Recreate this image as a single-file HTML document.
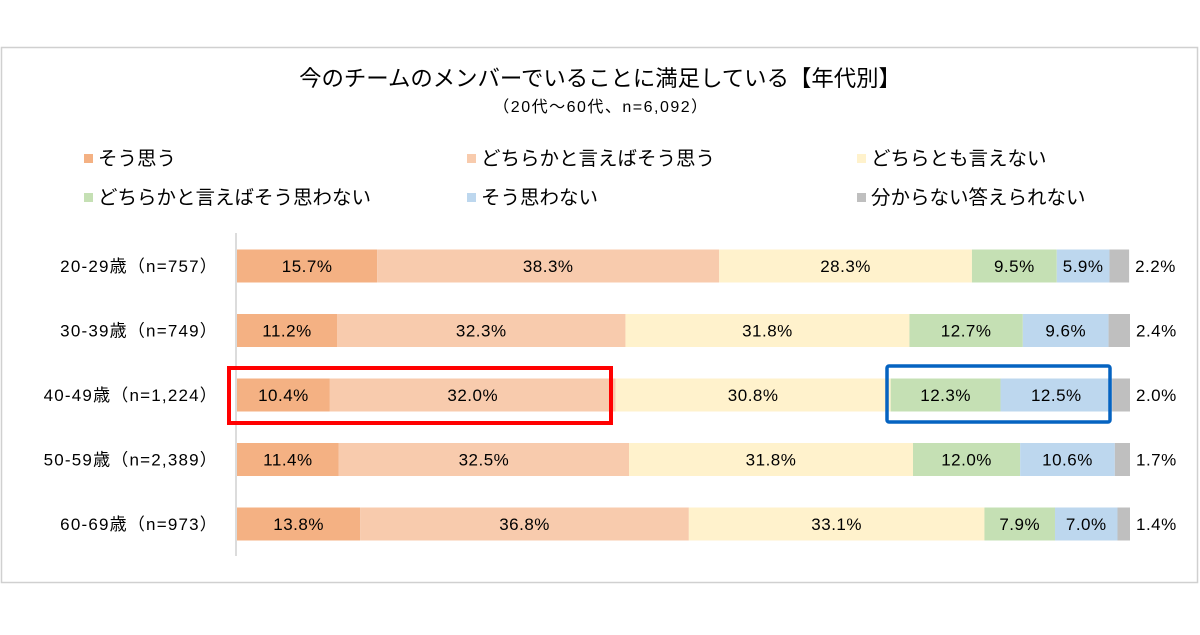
<!DOCTYPE html>
<html><head><meta charset="utf-8"><style>
body{margin:0;width:1200px;height:630px;background:#fff;overflow:hidden;font-family:"Liberation Sans","Noto Sans CJK JP",sans-serif;}
</style></head><body>
<svg width="1200" height="630" id="chart" font-family="Liberation Sans, Noto Sans CJK JP, sans-serif">
<rect x="1.5" y="47.5" width="1196" height="535" fill="#fff" stroke="#d0d0d0" stroke-width="1.5"/>
<text x="600" y="86" text-anchor="middle" font-size="22.4" fill="#000">今のチームのメンバーでいることに満足している【年代別】</text>
<text x="601" y="112" text-anchor="middle" font-size="16" letter-spacing="1.5" fill="#000">（20代～60代、n=6,092）</text>
<g id="legend"></g>
<line x1="236" y1="233" x2="236" y2="556" stroke="#d0d0d0" stroke-width="1.5"/>
<g id="bars"></g>
<rect x="229" y="368" width="382" height="55" fill="none" stroke="#ff0000" stroke-width="4"/>
<rect x="887" y="366" width="223" height="56" rx="2" fill="none" stroke="#0563c1" stroke-width="3.5"/>
</svg>
<script>
const categories=["20-29歳（n=757）","30-39歳（n=749）","40-49歳（n=1,224）","50-59歳（n=2,389）","60-69歳（n=973）"];
const seriesNames=["そう思う","どちらかと言えばそう思う","どちらとも言えない","どちらかと言えばそう思わない","そう思わない","分からない答えられない"];
const s1=[15.7,11.2,10.4,11.4,13.8];
const s2=[38.3,32.3,32.0,32.5,36.8];
const s3=[28.3,31.8,30.8,31.8,33.1];
const s4=[9.5,12.7,12.3,12.0,7.9];
const s5=[5.9,9.6,12.5,10.6,7.0];
const s6=[2.2,2.4,2.0,1.7,1.4];
const series=[s1,s2,s3,s4,s5,s6];
const colors=["#F4B183","#F8CBAD","#FFF2CC","#C5E0B4","#BDD7EE","#BFBFBF"];
const NS="http://www.w3.org/2000/svg";
const x0=237,pxPer=8.93;
const xs=v=>x0+v*pxPer;
const yc=i=>266+i*64.5;
const bh=33;
function mk(tag,attrs,parent){const e=document.createElementNS(NS,tag);for(const k in attrs)e.setAttribute(k,attrs[k]);parent.appendChild(e);return e;}
const lg=document.getElementById('legend');
const lx=[84,467,857],ly=[158,197];
seriesNames.forEach((n,k)=>{
  const cx=lx[k%3],cy=ly[Math.floor(k/3)];
  const r=mk('rect',{x:cx,y:cy-4,width:9,height:9,fill:colors[k]},lg);
  
  
  const t=mk('text',{x:cx+14,y:cy+7,'font-size':19.5,fill:'#000'},lg);
  t.textContent=n;
  
  
});
const bg=document.getElementById('bars');
categories.forEach((c,i)=>{
  const t=mk('text',{x:218,y:yc(i)+6,'text-anchor':'end','font-size':17,'letter-spacing':1.2,fill:'#000'},bg);
  t.textContent=c;
  
  
  let cum=0;
  series.forEach((s,k)=>{
    const v=s[i];
    const r=mk('rect',{x:xs(cum),y:yc(i)-bh/2,width:v*pxPer,height:bh,fill:colors[k]},bg);
    
    
    const lab=mk('text',{'font-size':17,'letter-spacing':0.5,fill:'#000'},bg);
    lab.textContent=v.toFixed(1)+'%';
    
    
    if(k===5){lab.setAttribute('x',xs(cum+v)+6);lab.setAttribute('y',yc(i)+6);}
    else{lab.setAttribute('x',xs(cum+v/2));lab.setAttribute('y',yc(i)+6);lab.setAttribute('text-anchor','middle');}
    cum+=v;
  });
});
</script>
</body></html>
